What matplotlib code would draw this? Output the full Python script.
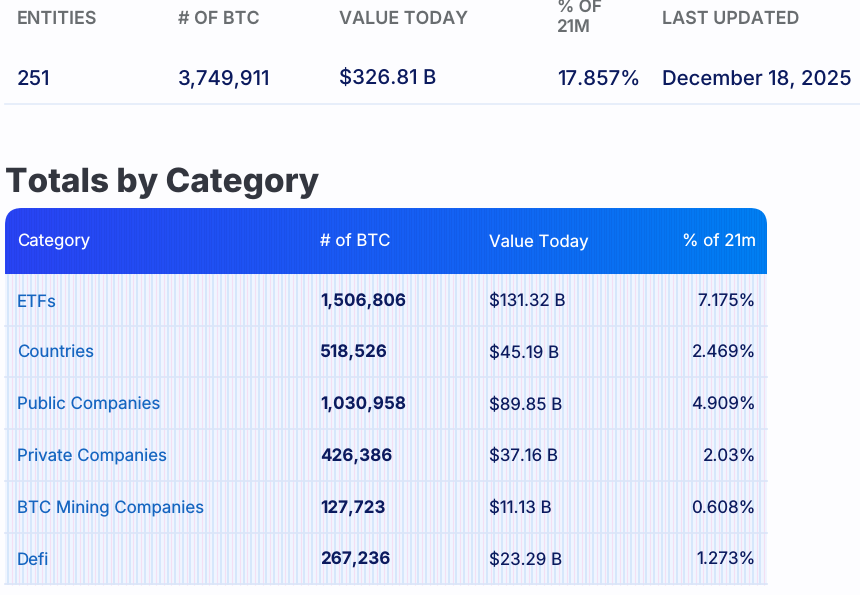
import numpy as np
import matplotlib
matplotlib.use('Agg')
import matplotlib.pyplot as plt
from matplotlib.colors import LinearSegmentedColormap
from matplotlib.patches import FancyBboxPatch

plt.rcParams['font.family'] = ['Inter', 'DejaVu Sans']
plt.rcParams['text.hinting'] = 'none'
plt.rcParams['text.hinting_factor'] = 1

# summary strip
summary_heads = ['ENTITIES', '# OF BTC', 'VALUE TODAY', '% OF\n21M', 'LAST UPDATED']
summary_vals = ['251', '3,749,911', '$326.81 B', '17.857%', 'December 18, 2025']

# table
col_heads = ['Category', '# of BTC', 'Value Today', '% of 21m']
categories = ['ETFs', 'Countries', 'Public Companies', 'Private Companies',
              'BTC Mining Companies', 'Defi']
btc = ['1,506,806', '518,526', '1,030,958', '426,386', '127,723', '267,236']
value_today = ['$131.32 B', '$45.19 B', '$89.85 B', '$37.16 B', '$11.13 B', '$23.29 B']
pct_21m = ['7.175%', '2.469%', '4.909%', '2.03%', '0.608%', '1.273%']

NAVY = '#0b1a5e'
GREY = '#696d70'
LINK = '#1565c0'

fig = plt.figure(figsize=(8.6, 5.95), dpi=100, facecolor='#fdfdff')
ax = fig.add_axes([0, 0, 1, 1])
ax.set_xlim(0, 860)
ax.set_ylim(595, 0)
ax.axis('off')

# summary strip
sum_x = [17, 178, 339, 557, 662]
for x, h, v in zip(sum_x, summary_heads, summary_vals):
    if '\n' in h:
        ax.text(x, 18, h, fontsize=12.4, fontweight='semibold', color=GREY,
                ha='left', va='center', linespacing=1.2)
    else:
        ax.text(x, 23.5, h, fontsize=12.9, fontweight='semibold', color=GREY,
                ha='left', va='baseline')
    ax.text(x, 84.5, v, fontsize=14.65, fontweight='medium', color=NAVY, ha='left', va='baseline')
ax.plot([5, 860], [104, 104], color='#e3ebfa', lw=1.2)

ax.text(5, 192, 'Totals by Category', fontsize=24, fontweight='heavy', color='#33363f',
        ha='left', va='baseline')

# table body with faint stripes
ax.fill_between([5, 767], 274, 585, color='#f0f5ff', lw=0, zorder=1)
stripe_x = np.arange(8, 767, 7.6)
ax.vlines(stripe_x, 274, 585, color='#cfe4fb', lw=1.1, zorder=1.2)
ax.vlines(stripe_x + 3.8, 274, 585, color='#f3dff3', lw=0.8, zorder=1.2)

# header gradient, rounded on top
cmap = LinearSegmentedColormap.from_list('hdr', ['#2a45f6', '#1f55f5', '#1268f5', '#0081f4'])
img = ax.imshow(np.linspace(0, 1, 256)[None, :], extent=[5, 767, 274, 208], cmap=cmap,
                aspect='auto', zorder=2)
ax.set_xlim(0, 860)
ax.set_ylim(595, 0)
clip = FancyBboxPatch((5, 208), 762, 100, boxstyle='round,pad=0,rounding_size=17',
                      transform=ax.transData, fc='none', ec='none')
ax.add_patch(clip)
img.set_clip_path(clip)
hdr_lines = ax.vlines(np.arange(6, 767, 2.5), 208, 274, color='#000a60', alpha=0.07, lw=0.8, zorder=2.1)
hdr_lines.set_clip_path(clip)

col_x = [17, 320, 489, 756]
col_ha = ['left', 'left', 'left', 'right']
for x, ha, h in zip(col_x, col_ha, col_heads):
    ax.text(x, 246.5, h, fontsize=12.1, color='white', ha=ha, va='baseline', zorder=3)

row_h = 51.7
for i in range(len(categories)):
    y = 306.5 + i * row_h
    ax.text(col_x[0], y, categories[i], fontsize=12.15, color=LINK, ha='left', va='baseline', zorder=3)
    ax.text(col_x[1], y, btc[i], fontsize=12.3, fontweight='bold', color=NAVY, ha='left', va='baseline', zorder=3)
    ax.text(col_x[2], y, value_today[i], fontsize=12.2, color=NAVY, ha='left', va='baseline', zorder=3)
    ax.text(col_x[3], y, pct_21m[i], fontsize=12.3, color=NAVY, ha='right', va='baseline', zorder=3)
    ax.plot([5, 767], [274 + (i + 1) * row_h] * 2, color='#dbe5f8', lw=1.2, zorder=1.5)

fig.savefig('out.png', dpi=100, facecolor=fig.get_facecolor())
